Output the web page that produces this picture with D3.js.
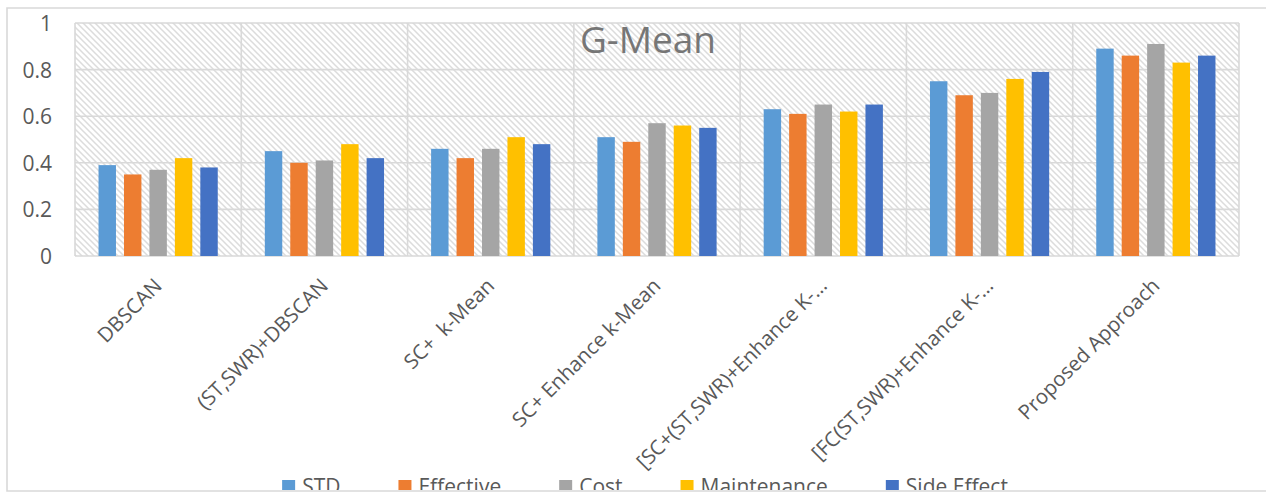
<!DOCTYPE html>
<html>
<head>
<meta charset="utf-8">
<script src="https://cdn.jsdelivr.net/npm/d3@7"></script>
<style>
  html, body { margin: 0; padding: 0; background: #fff; }
  svg { display: block; font-family: "Open Sans", sans-serif; }
  text { white-space: pre; }
</style>
</head>
<body>
<svg id="chart" width="1266" height="495"></svg>
<script>
// Methods compared
const categories = [
  "DBSCAN",
  "(ST,SWR)+DBSCAN",
  "SC+  k-Mean",
  "SC+ Enhance k-Mean",
  "[SC+(ST,SWR)+Enhance K-…",
  "[FC(ST,SWR)+Enhance K-…",
  "Proposed Approach"
];

// Series names and their G-Mean per method
const seriesNames = ["STD", "Effective", "Cost", "Maintenance", "Side Effect"];
const STD         = [0.39, 0.45, 0.46, 0.51, 0.63, 0.75, 0.89];
const Effective   = [0.35, 0.40, 0.42, 0.49, 0.61, 0.69, 0.86];
const Cost        = [0.37, 0.41, 0.46, 0.57, 0.65, 0.70, 0.91];
const Maintenance = [0.42, 0.48, 0.51, 0.56, 0.62, 0.76, 0.83];
const SideEffect  = [0.38, 0.42, 0.48, 0.55, 0.65, 0.79, 0.86];
const yTicks = [0, 0.2, 0.4, 0.6, 0.8, 1];
const yTickLabels = ["0", "0.2", "0.4", "0.6", "0.8", "1"];
const title = "G-Mean";

const seriesValues = [STD, Effective, Cost, Maintenance, SideEffect];
const colors = ["#5B9BD5", "#ED7D31", "#A5A5A5", "#FFC000", "#4472C4"];

const svg = d3.select("#chart");
const W = 1266, H = 495;
const plot = { left: 75, right: 1239, top: 23, bottom: 256 };
const gridColor = "#d9d9d9";
const textColor = "#595959";

// everything inside the chart frame is clipped at its bottom edge
const defs = svg.append("defs");
defs.append("clipPath").attr("id", "frameClip")
  .append("rect").attr("x", 0).attr("y", 0).attr("width", W).attr("height", 490);

// diagonal hatch fill for the plot area
const pat = defs.append("pattern")
  .attr("id", "hatch").attr("patternUnits", "userSpaceOnUse")
  .attr("width", 6).attr("height", 6);
pat.append("rect").attr("width", 6).attr("height", 6).attr("fill", "#ffffff");
pat.append("path").attr("d", "M-1,-1 L7,7 M-1,5 L1,7 M5,-1 L7,1")
  .attr("stroke", "#dcdcdc").attr("stroke-width", 1.5);

const root = svg.append("g").attr("clip-path", "url(#frameClip)");

const x = d3.scaleBand().domain(d3.range(categories.length))
  .range([plot.left, plot.right]).padding(0);
const xs = d3.scaleBand().domain(d3.range(seriesNames.length))
  .range([0, x.bandwidth()]).paddingInner(0.315).paddingOuter(0.925);
const y = d3.scaleLinear().domain([0, 1]).range([plot.bottom, plot.top]);

// plot background
root.append("rect")
  .attr("x", plot.left).attr("y", plot.top)
  .attr("width", plot.right - plot.left).attr("height", plot.bottom - plot.top)
  .attr("fill", "url(#hatch)");

// horizontal gridlines
root.append("g").selectAll("line").data(yTicks).join("line")
  .attr("x1", plot.left).attr("x2", plot.right)
  .attr("y1", d => y(d)).attr("y2", d => y(d))
  .attr("stroke", gridColor).attr("stroke-width", 1.6);

// vertical category separators
root.append("g").selectAll("line").data(d3.range(categories.length + 1)).join("line")
  .attr("x1", i => i < categories.length ? x(i) : plot.right)
  .attr("x2", i => i < categories.length ? x(i) : plot.right)
  .attr("y1", plot.top).attr("y2", plot.bottom)
  .attr("stroke", gridColor).attr("stroke-width", 1.6);

// bars
const groups = root.append("g").selectAll("g").data(categories).join("g")
  .attr("transform", (d, i) => `translate(${x(i)},0)`);
groups.selectAll("rect")
  .data((d, i) => seriesValues.map((vals, s) => ({ s, v: vals[i] })))
  .join("rect")
  .attr("x", d => xs(d.s))
  .attr("width", xs.bandwidth())
  .attr("y", d => y(d.v))
  .attr("height", d => y(0) - y(d.v))
  .attr("fill", d => colors[d.s]);

// y axis labels
const yAxis = d3.axisLeft(y).tickValues(yTicks)
  .tickFormat((d, i) => yTickLabels[i]).tickSize(0).tickPadding(0);
const yg = root.append("g").attr("transform", `translate(52,0)`).call(yAxis);
yg.select(".domain").remove();
yg.selectAll("text")
  .attr("fill", textColor).attr("font-size", 21)
  .attr("font-family", "Open Sans, sans-serif").attr("dy", "0.36em");

// category labels, slanted at 45 degrees and ending under each group
root.append("g").selectAll("text").data(categories).join("text")
  .attr("transform", (d, i) =>
    `translate(${x(i) + x.bandwidth() / 2 + 5},${plot.bottom + 31}) rotate(-45)`)
  .attr("text-anchor", "end")
  .attr("font-size", 20.5)
  .attr("fill", textColor)
  .text(d => d);

// title
root.append("text")
  .attr("x", 648).attr("y", 53)
  .attr("text-anchor", "middle")
  .attr("font-size", 37)
  .attr("fill", "#767676")
  .text(title);

// legend
const legend = root.append("g");
const items = legend.selectAll("g").data(seriesNames).join("g");
items.append("rect").attr("width", 13).attr("height", 13).attr("y", 480)
  .attr("fill", (d, i) => colors[i]);
items.append("text").attr("x", 20).attr("y", 494)
  .attr("font-size", 21).attr("fill", textColor).text(d => d);
let cursor = 0;
const offsets = [];
items.each(function () {
  offsets.push(cursor);
  const w = d3.select(this).select("text").node().getComputedTextLength();
  cursor += 20 + w + 58;
});
const legendWidth = cursor - 58;
const legendStart = 645 - legendWidth / 2;
items.attr("transform", (d, i) => `translate(${legendStart + offsets[i]},0)`);

// chart frame (its right side lies beyond the view)
svg.append("path")
  .attr("d", `M${W + 10},8 H7 V491 H${W + 10}`)
  .attr("fill", "none").attr("stroke", gridColor).attr("stroke-width", 1.6);
</script>
</body>
</html>
